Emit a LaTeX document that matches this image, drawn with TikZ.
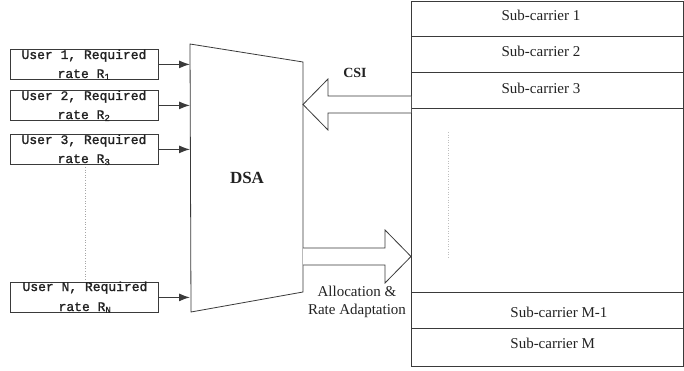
\documentclass[tikz,border=0pt]{standalone}
\usepackage{fontspec}
\setmainfont{Liberation Serif}
\setmonofont{Liberation Mono}
\newfontfamily\umono[FakeBold=1.3]{Liberation Mono}
\usetikzlibrary{arrows.meta}
\definecolor{linec}{HTML}{3A3A3A}
\definecolor{txtc}{HTML}{222222}
\begin{document}
\begin{tikzpicture}[x=1pt,y=-1pt,line width=0.8pt,
  ubox/.style={draw=linec,minimum width=148pt,minimum height=30pt,inner sep=0pt,anchor=north west},
  utext/.style={font=\umono\fontsize{13}{15}\selectfont,text=txtc,anchor=base,inner sep=0pt},
  conn/.style={draw=linec,line width=1.2pt,-{Latex[length=11pt,width=8pt]}},
  lbl/.style={font=\fontsize{15}{17}\selectfont,text=txtc,anchor=base,inner sep=0pt},
  boldlbl/.style={font=\bfseries\fontsize{14}{16}\selectfont,text=txtc,inner sep=0pt},
  blockarrow/.style={draw=linec,line width=0.8pt,fill=white,line join=miter},
  dotline/.style={draw=gray!70,line width=0.9pt,dash pattern=on 1pt off 1.6pt}]
\useasboundingbox (0,0) rectangle (684,371);
\fill[white] (0,0) rectangle (684,371);

% DSA trapezoid
\coordinate (d1) at (190,44);
\coordinate (d2) at (303,62);
\coordinate (d3) at (303,292);
\coordinate (d4) at (191,312);
\coordinate (dsaL) at (190,0);
\draw[linec] (d1) -- (d2) -- (d3) -- (d4) -- cycle;
\node[boldlbl,font=\bfseries\fontsize{17}{19}\selectfont] (dsa) at (247,178) {DSA};

% user boxes
\node[ubox] (u1) at (10,49) {};
\node[ubox] (u2) at (10,90) {};
\node[ubox] (u3) at (10,134) {};
\node[ubox] (uN) at (10,282) {};
\node[utext] (u1a) at (84,59) {User 1, Required};
\node[utext] (u1b) at (84,78) {rate R\textsubscript{1}};
\node[utext] (u2a) at (84,100) {User 2, Required};
\node[utext] (u2b) at (84,119) {rate R\textsubscript{2}};
\node[utext] (u3a) at (84,144) {User 3, Required};
\node[utext] (u3b) at (84,163) {rate R\textsubscript{3}};
\node[utext] (uNa) at (85,291) {User N, Required};
\node[utext] (uNb) at (85,311) {rate R\textsubscript{N}};

\draw[conn] (u1.east) -- (u1.east -| dsaL);
\draw[conn] (u2.east) -- (u2.east -| dsaL);
\draw[conn] (u3.east) -- (u3.east -| dsaL);
\draw[conn] (uN.east) -- (uN.east -| dsaL);

\coordinate (dl1) at (85,167);
\coordinate (dl2) at (85,279);
\draw[dotline] (dl1) -- (dl2);

% sub-carrier panel
\node[draw=linec,minimum width=272pt,minimum height=365pt,inner sep=0pt,anchor=north west] (panel) at (411,1) {};
\draw[linec] (411,36) -- (683,36);
\draw[linec] (411,72) -- (683,72);
\draw[linec] (411,108) -- (683,108);
\draw[linec] (411,292) -- (683,292);
\draw[linec] (411,328) -- (683,328);
\node[lbl] (s1) at (541,21) {Sub-carrier 1};
\node[lbl] (s2) at (541,57) {Sub-carrier 2};
\node[lbl] (s3) at (541,94) {Sub-carrier 3};
\node[lbl,anchor=base west] (sm1) at (510,317) {Sub-carrier M-1};
\node[lbl,anchor=base west] (sm) at (510,348) {Sub-carrier M};
\coordinate (dr1) at (448,132);
\coordinate (dr2) at (448,258);
\draw[dotline,draw=gray!50] (dr1) -- (dr2);

% CSI block arrow
\draw[blockarrow] (411,96) -- (328,96) -- (328,79) -- (303,104.5) -- (328,130) -- (328,113) -- (411,113);
\node[boldlbl] (csi) at (355,73) {CSI};

% Allocation block arrow
\draw[blockarrow] (303,248) -- (385,248) -- (385,230) -- (411,256.5) -- (385,283) -- (385,265) -- (303,265);
\node[lbl] (al1) at (357,296) {Allocation \&};
\node[lbl] (al2) at (357,314) {Rate Adaptation};
\end{tikzpicture}
\end{document}
